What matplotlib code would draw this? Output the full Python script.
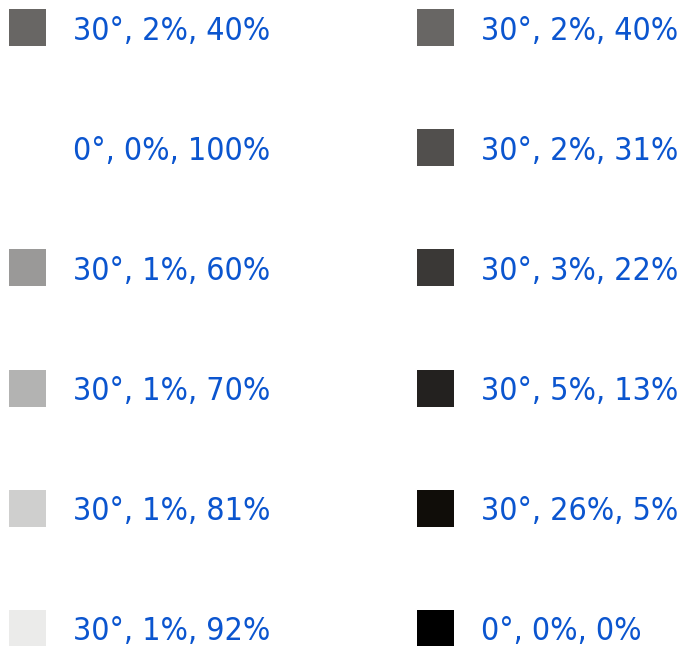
import colorsys
import matplotlib
matplotlib.use("Agg")
import matplotlib.pyplot as plt
from matplotlib.patches import Rectangle
from matplotlib import font_manager

# HSL triples (hue deg, saturation %, lightness %), one list per column
LEFT_H = [30, 0, 30, 30, 30, 30]
LEFT_S = [2, 0, 1, 1, 1, 1]
LEFT_L = [40, 100, 60, 70, 81, 92]

RIGHT_H = [30, 30, 30, 30, 30, 0]
RIGHT_S = [2, 2, 3, 5, 26, 0]
RIGHT_L = [40, 31, 22, 13, 5, 0]

W, H = 683, 646
TEXT_COLOR = "#0b55cf"

fig = plt.figure(figsize=(W / 100, H / 100), dpi=100)
ax = fig.add_axes([0, 0, 1, 1])
ax.set_xlim(0, W)
ax.set_ylim(H, 0)
ax.axis("off")

# condensed face if the system has it, otherwise plain DejaVu Sans
cond = [f.fname for f in font_manager.fontManager.ttflist
        if f.name == "DejaVu Sans" and f.stretch == "condensed" and f.weight in (400, "normal") and f.style == "normal"]
print(cond)
if cond:
    fp = font_manager.FontProperties(fname=cond[0], size=23)
else:
    fp = font_manager.FontProperties(family="DejaVu Sans", size=20.7)


def hsl(h, s, l):
    return colorsys.hls_to_rgb(h / 360, l / 100, s / 100)


columns = [(9, LEFT_H, LEFT_S, LEFT_L), (417, RIGHT_H, RIGHT_S, RIGHT_L)]
for x0, hs, ss, ls in columns:
    for i, (h, s, l) in enumerate(zip(hs, ss, ls)):
        top = 9 + 120.2 * i
        ax.add_patch(Rectangle((x0, top), 37, 37, color=hsl(h, s, l), lw=0))
        ax.text(x0 + 64, top + 30.5, f"{h}°, {s}%, {l}%", color=TEXT_COLOR,
                fontproperties=fp, va="baseline", ha="left")

fig.savefig("out.png", dpi=100)
